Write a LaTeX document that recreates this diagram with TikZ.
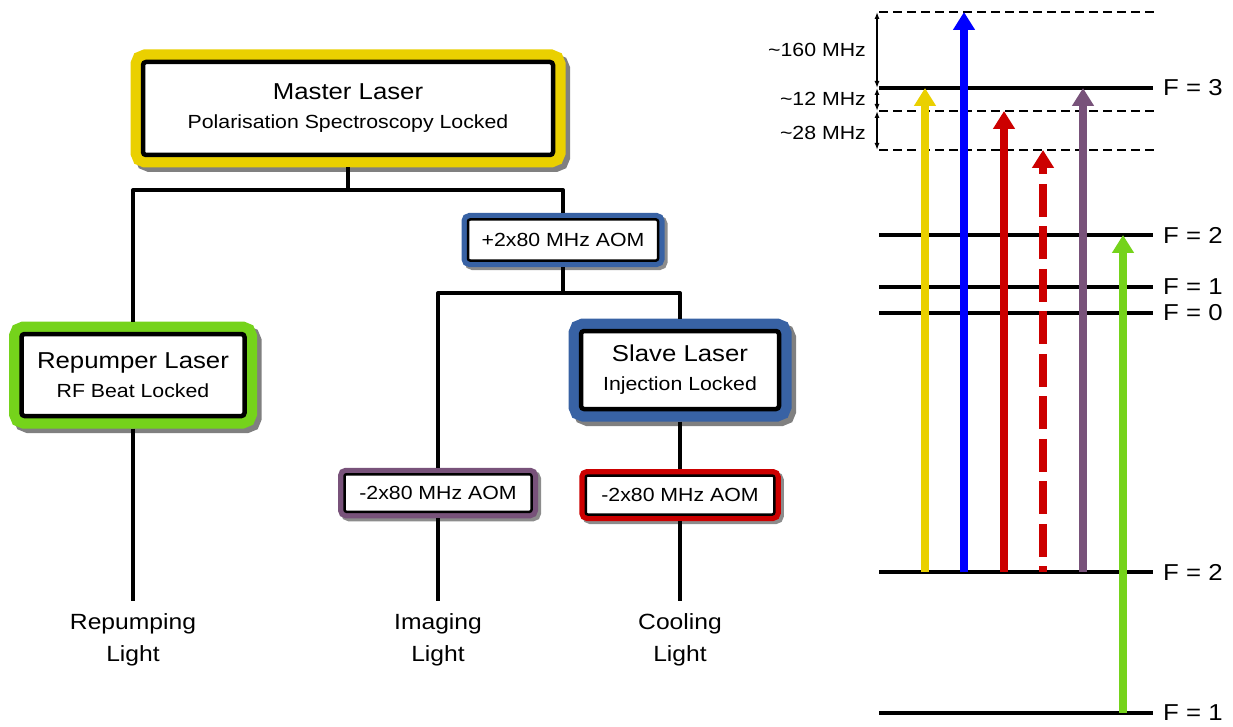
\documentclass[tikz,border=0pt]{standalone}
\usepackage{fontspec}
\newfontfamily\labelfont[FakeStretch=1.12]{Liberation Sans}
\usetikzlibrary{arrows.meta}
\definecolor{masteryellow}{RGB}{234,208,0}
\definecolor{repumpgreen}{RGB}{117,211,27}
\definecolor{slaveblue}{RGB}{56,98,164}
\definecolor{imagepurple}{RGB}{120,82,122}
\definecolor{coolred}{RGB}{204,0,0}
\definecolor{probeblue}{RGB}{0,0,255}

\tikzset{
  laserbox/.style={draw=black,line width=4.5pt,fill=white,rounded corners=3pt,
    inner sep=0pt,outer sep=12.5pt,align=center,
    font=\labelfont\fontsize{23}{29}\selectfont,
    preaction={draw=black!50,line width=25pt,transform canvas={shift={(4.5pt,-4.5pt)}}},
    preaction={draw=#1,line width=25pt}},
  aombox/.style={draw=black,line width=2.5pt,fill=white,rounded corners=2pt,
    inner sep=0pt,outer sep=6.5pt,font=\labelfont\fontsize{19}{23}\selectfont,
    preaction={draw=black!45,line width=13pt,transform canvas={shift={(3pt,-3pt)}}},
    preaction={draw=#1,line width=13pt}},
  outlabel/.style={anchor=north,inner sep=0pt,align=center,
    font=\labelfont\fontsize{22}{32}\selectfont},
  tree/.style={line width=4pt,line join=round},
  level/.style={line width=4pt},
  virtual/.style={line width=1.5pt,dash pattern=on 9pt off 5pt},
  levellabel/.style={anchor=west,inner sep=0pt,font=\labelfont\fontsize{23}{28}\selectfont},
  span/.style={line width=1.3pt,{Latex[length=7pt,width=5pt]}-{Latex[length=7pt,width=5pt]}},
  spanlabel/.style={anchor=east,inner sep=0pt,font=\labelfont\fontsize{19}{23}\selectfont},
  trans/.style={line width=8pt,-{Triangle[length=18pt,width=21pt]}}
}

\begin{document}
\begin{tikzpicture}[x=1pt,y=-1pt]
\useasboundingbox (0,0) rectangle (1233,727);

% laser and AOM boxes
\node[laserbox=masteryellow,minimum width=410pt,minimum height=93pt] (master) at (348,108.5)
  {Master Laser\\{\fontsize{19}{29}\selectfont Polarisation Spectroscopy Locked}};
\node[laserbox=repumpgreen,minimum width=223pt,minimum height=82pt] (repump) at (133,375)
  {Repumper Laser\\{\fontsize{19}{29}\selectfont RF Beat Locked}};
\node[laserbox=slaveblue,minimum width=198pt,minimum height=78pt] (slave) at (680,370)
  {Slave Laser\\{\fontsize{19}{29}\selectfont Injection Locked}};
\node[aombox=slaveblue,minimum width=190pt,minimum height=41pt] (aomup) at (563,240) {+2x80 MHz AOM};
\node[aombox=imagepurple,minimum width=187pt,minimum height=37.5pt] (imgaom) at (438,493) {-2x80 MHz AOM};
\node[aombox=coolred,minimum width=188.5pt,minimum height=39pt] (coolaom) at (680,495) {-2x80 MHz AOM};

\node[outlabel] (replight) at (133,613) {Repumping\\Light};
\node[outlabel] (imglight) at (438,613) {Imaging\\Light};
\node[outlabel] (coollight) at (680,613) {Cooling\\Light};

% distribution tree
\coordinate (masterbus) at (348,190);
\coordinate (aombus) at (563,293);
\draw[tree] (master.south) -- (masterbus);
\draw[tree] (repump.north) |- (masterbus) -| (aomup.north);
\draw[tree] (aomup.south) -- (aombus);
\draw[tree] (imgaom.north) |- (aombus) -| (slave.north);
\draw[tree] (slave.south) -- (coolaom.north);
\draw[tree,shorten >=12pt] (repump.south) -- (replight.north);
\draw[tree,shorten >=12pt] (imgaom.south) -- (imglight.north);
\draw[tree,shorten >=12pt] (coolaom.south) -- (coollight.north);

% hyperfine levels
\foreach \y/\name/\txt in {88/upthree/F = 3,235/uptwo/F = 2,287/upone/F = 1,
    313/upzero/F = 0,572/lowtwo/F = 2,713/lowone/F = 1} {
  \draw[level] (879,\y) -- (1153,\y);
  \node[levellabel] (\name) at (1163,\y) {\txt};
}
\foreach \y in {12,111,150}
  \draw[virtual] (879,\y) -- (1155,\y);

% detunings
\draw[span] (877,12) -- (877,88);
\draw[span] (877,88) -- (877,111);
\draw[span] (877,111) -- (877,150);
\node[spanlabel] (spanbig) at (866,50) {\textasciitilde160 MHz};
\node[spanlabel] (spanmid) at (866,99) {\textasciitilde12 MHz};
\node[spanlabel] (spansmall) at (866,132.5) {\textasciitilde28 MHz};

% transitions
\foreach \x/\ytop/\col in {925/88/masteryellow,964/12/probeblue,1004/111/coolred,1083/88/imagepurple}
  \draw[trans,\col] (\x,572) -- (\x,\ytop);
\draw[coolred,line width=8pt,{Triangle[length=18pt,width=21pt]}-,
  dash pattern=on 33pt off 9.5pt,dash phase=25.5pt] (1043,150) -- (1043,572);
\draw[trans,repumpgreen] (1123,713) -- (1123,235);
\end{tikzpicture}
\end{document}
